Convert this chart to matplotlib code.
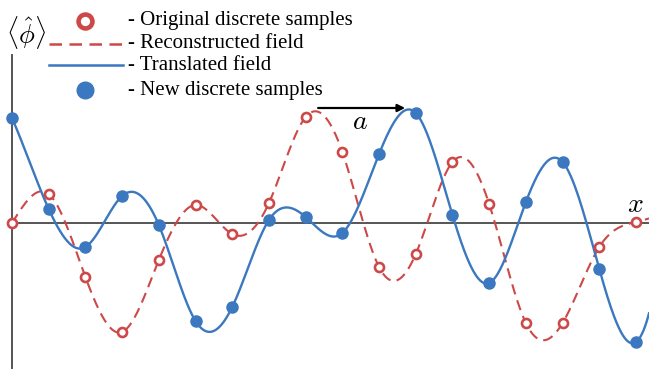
import numpy as np
import matplotlib
matplotlib.use("Agg")
import matplotlib.pyplot as plt

# ---- data (sample index -> field value) ----
sample_x = list(range(18))
original_samples = [0.00, 0.29, -0.54, -1.09, -0.37, 0.18, -0.11, 0.20, 1.06,
                    0.71, -0.44, -0.31, 0.61, 0.19, -1.00, -1.00, -0.24, 0.01]
new_samples = [1.05, 0.14, -0.24, 0.27, -0.02, -0.98, -0.84, 0.03, 0.06,
               -0.10, 0.69, 1.10, 0.08, -0.60, 0.21, 0.61, -0.46, -1.19]
shift_start, shift_end, shift_level = 8.34, 10.71, 1.15
legend_labels = ["- Original discrete samples", "- Reconstructed field",
                 "- Translated field", "- New discrete samples"]

RED = "#cd4848"
BLUE = "#3b78bf"


def cubic_spline(xk, yk, xe, end="natural"):
    xk = np.asarray(xk, float); yk = np.asarray(yk, float)
    n = len(xk); m = n - 1
    A = np.zeros((4 * m, 4 * m)); b = np.zeros(4 * m)
    r = 0
    for i in range(m):
        h = xk[i + 1] - xk[i]
        A[r, 4 * i] = 1; b[r] = yk[i]; r += 1
        A[r, 4 * i:4 * i + 4] = [1, h, h * h, h ** 3]; b[r] = yk[i + 1]; r += 1
    for i in range(m - 1):
        h = xk[i + 1] - xk[i]
        A[r, 4 * i:4 * i + 4] = [0, 1, 2 * h, 3 * h * h]; A[r, 4 * (i + 1) + 1] = -1; r += 1
        A[r, 4 * i:4 * i + 4] = [0, 0, 2, 6 * h]; A[r, 4 * (i + 1) + 2] = -2; r += 1
    if end == "natural":
        h = xk[-1] - xk[-2]
        A[r, 2] = 2; r += 1
        A[r, 4 * (m - 1):4 * m] = [0, 0, 2, 6 * h]; r += 1
    else:  # not-a-knot
        A[r, 3] = 1; A[r, 7] = -1; r += 1
        A[r, 4 * (m - 2) + 3] = 1; A[r, 4 * (m - 1) + 3] = -1; r += 1
    c = np.linalg.solve(A, b).reshape(m, 4)
    idx = np.clip(np.searchsorted(xk, xe) - 1, 0, m - 1)
    t = xe - xk[idx]
    cc = c[idx]
    return cc[:, 0] + cc[:, 1] * t + cc[:, 2] * t ** 2 + cc[:, 3] * t ** 3


plt.rcParams["mathtext.fontset"] = "cm"
W, H = 649, 369
fig = plt.figure(figsize=(W / 100, H / 100), dpi=100)
ax = fig.add_axes([0, 0, 1, 1])
px = 36.706
x_left = -12 / px
x_right = 17 + 13 / px
ax.set_xlim(x_left, x_right)
ax.set_ylim(-(H - 223) / 100, 223 / 100)
ax.axis("off")

# axes lines
ax.plot([0, 0], [-(H - 223) / 100, 1.68], color="#555555", lw=1.4, zorder=1)
ax.plot([0, x_right], [0, 0], color="#555555", lw=1.4, zorder=1)

xe = np.linspace(0, x_right, 800)
ax.plot(xe, cubic_spline(sample_x, original_samples, xe, "natural"), color=RED,
        lw=1.5, dashes=(5, 3), zorder=2)
ax.plot(xe, cubic_spline(sample_x, new_samples, xe, "not-a-knot"), color=BLUE,
        lw=1.7, zorder=3)
ax.plot(sample_x, original_samples, "o", ms=6.5, mfc="white", mec=RED,
        mew=1.9, zorder=4, clip_on=False)
ax.plot(sample_x, new_samples, "o", ms=8, color=BLUE, mec=BLUE, zorder=5,
        clip_on=False)

ax.annotate("", xy=(shift_end, shift_level), xytext=(shift_start, shift_level),
            arrowprops=dict(arrowstyle="-|>", color="black", lw=1.6,
                            mutation_scale=11, shrinkA=0, shrinkB=0), zorder=6)
ax.text(9.48, 1.02, r"$a$", fontsize=20, ha="center", va="center")
ax.text(16.98, 0.19, r"$x$", fontsize=20, ha="center", va="center")

# legend drawn by hand
def fpt(x, y):
    return (x / W, 1 - y / H)

fig.text(*fpt(26, 32), r"$\langle\hat{\phi}\rangle$", fontsize=19,
         ha="center", va="center")
lx0, lx1, mx = 49, 123, 85
ys = [21, 44, 65, 90]
fig.lines.append(plt.Line2D([mx / W], [1 - ys[0] / H], marker="o", ms=10,
                            mfc="white", mec=RED, mew=3.3, ls="none",
                            transform=fig.transFigure))
fig.lines.append(plt.Line2D([lx0 / W, lx1 / W], [1 - ys[1] / H] * 2, color=RED,
                            lw=1.8, dashes=(5, 3), transform=fig.transFigure))
fig.lines.append(plt.Line2D([lx0 / W, lx1 / W], [1 - ys[2] / H] * 2, color=BLUE,
                            lw=1.8, transform=fig.transFigure))
fig.lines.append(plt.Line2D([mx / W], [1 - ys[3] / H], marker="o", ms=12,
                            color=BLUE, ls="none", transform=fig.transFigure))
for lab, yy in zip(legend_labels, ys):
    fig.text(128 / W, 1 - yy / H, lab, family="Liberation Serif", fontsize=15,
             ha="left", va="center")

fig.savefig("out.png", dpi=100)
